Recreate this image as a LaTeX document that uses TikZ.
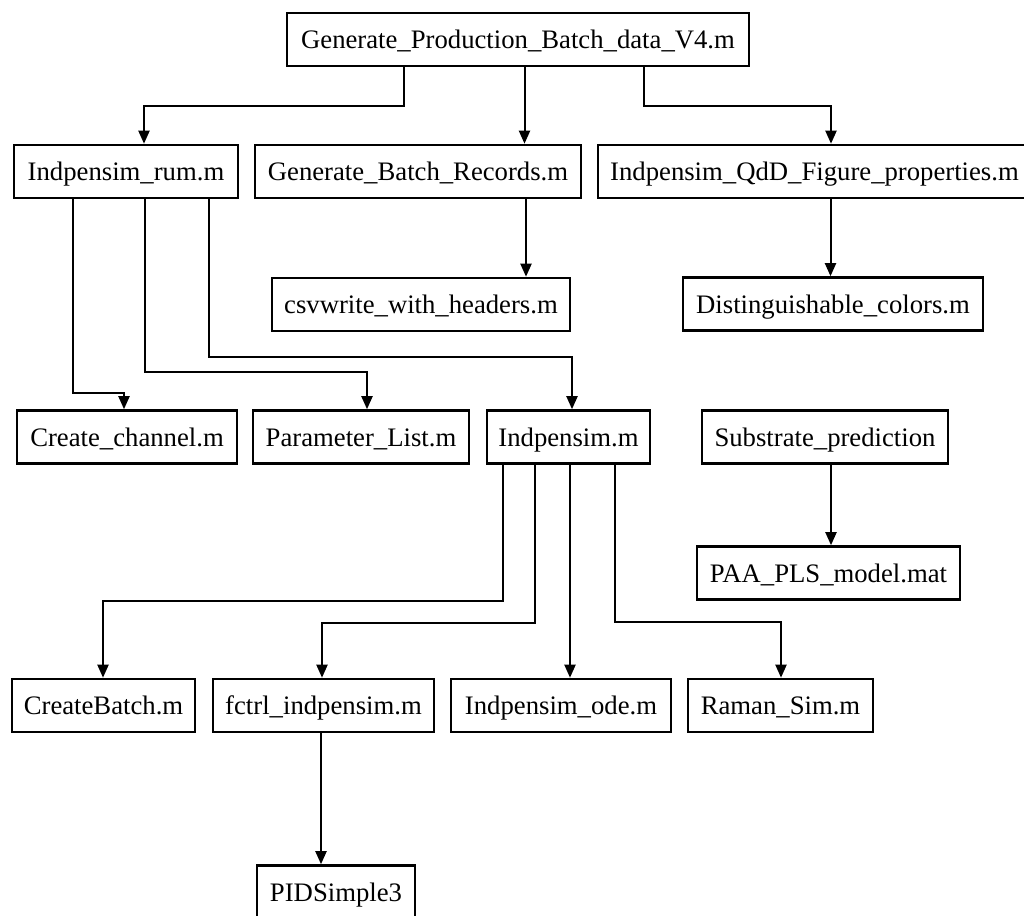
\documentclass[tikz,border=0pt]{standalone}
\usepackage{fontspec}
\setmainfont{Liberation Serif}
\usetikzlibrary{arrows.meta}
\tikzset{
  nbox/.style={draw, line width=2.6pt, inner sep=0pt, minimum height=53pt,
    minimum width=#1, text height=21pt, text depth=3pt,
    font=\fontsize{26.7}{32}\selectfont},
  arr/.style={line width=2pt, -{Triangle[length=13pt,width=11pt]}}
}
\begin{document}
\begin{tikzpicture}[x=1pt,y=-1pt]
\useasboundingbox (0,0) rectangle (1024,915);
\clip (0,0) rectangle (1024,915);
\fill[white] (0,0) rectangle (1024,915);

% nodes
\node[nbox=462] (top) at (518,39.5) {Generate\_Production\_Batch\_data\_V4.m};
\node[nbox=224] (rum) at (126,171.5) {Indpensim\_rum.m};
\node[nbox=326] (gbr) at (418,171.5) {Generate\_Batch\_Records.m};
\node[nbox=433] (qdd) at (814.5,171.5) {Indpensim\_QdD\_Figure\_properties.m};
\node[nbox=298] (csv) at (421,304.5) {csvwrite\_with\_headers.m};
\node[nbox=300] (dist) at (833,304) {Distinguishable\_colors.m};
\node[nbox=220] (cc) at (127,437) {Create\_channel.m};
\node[nbox=216] (pl) at (361,437) {Parameter\_List.m};
\node[nbox=163] (ind) at (568.5,437) {Indpensim.m};
\node[nbox=246] (sub) at (825,437) {Substrate\_prediction};
\node[nbox=263] (paa) at (828.5,573) {PAA\_PLS\_model.mat};
\node[nbox=183] (cb) at (103.5,705.5) {CreateBatch.m};
\node[nbox=221] (fc) at (323.5,705.5) {fctrl\_indpensim.m};
\node[nbox=220] (ode) at (561,705.5) {Indpensim\_ode.m};
\node[nbox=185] (ram) at (780.5,705.5) {Raman\_Sim.m};
\node[nbox=158] (pid) at (336,892) {PIDSimple3};

% connectors
\draw[arr] ([xshift=-114pt]top.south) -- ++(0,39) -| ([xshift=18pt]rum.north);
\draw[arr] ([xshift=6.5pt]top.south) -- ([xshift=106.5pt]gbr.north);
\draw[arr] ([xshift=126pt]top.south) -- ++(0,39) -| ([xshift=16.5pt]qdd.north);
\draw[arr] ([xshift=108pt]gbr.south) -- ([xshift=105pt]csv.north);
\draw[arr] ([xshift=16pt]qdd.south) -- ([xshift=-2.5pt]dist.north);
\draw[arr] ([xshift=-53pt]rum.south) -- ++(0,194) -| ([xshift=-3pt]cc.north);
\draw[arr] ([xshift=19pt]rum.south) -- ++(0,173) -| ([xshift=6pt]pl.north);
\draw[arr] ([xshift=83pt]rum.south) -- ++(0,158) -| ([xshift=3.5pt]ind.north);
\draw[arr] ([xshift=6pt]sub.south) -- ([xshift=2.5pt]paa.north);
\draw[arr] ([xshift=-65.5pt]ind.south) -- ++(0,136) -| ([xshift=-0.5pt]cb.north);
\draw[arr] ([xshift=-33.5pt]ind.south) -- ++(0,158) -| ([xshift=-1.5pt]fc.north);
\draw[arr] ([xshift=1.5pt]ind.south) -- ([xshift=9pt]ode.north);
\draw[arr] ([xshift=46.5pt]ind.south) -- ++(0,157) -| ([xshift=0.5pt]ram.north);
\draw[arr] ([xshift=-2.5pt]fc.south) -- ([xshift=-15pt]pid.north);
\end{tikzpicture}
\end{document}
